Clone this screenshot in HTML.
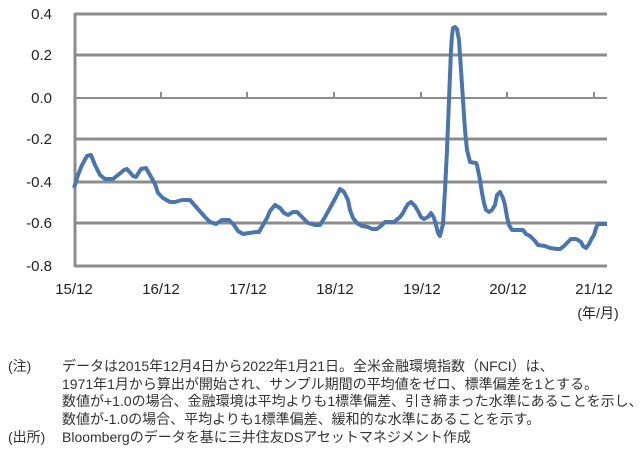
<!DOCTYPE html>
<html><head><meta charset="utf-8"><style>
body{margin:0;background:#fff;width:640px;height:456px;overflow:hidden;font-family:"Liberation Sans","Noto Sans CJK JP",sans-serif;}
.n{position:absolute;font-size:14px;color:#333;white-space:nowrap;line-height:17.7px;}
</style></head><body>
<svg width="640" height="456" style="position:absolute;left:0;top:0" font-family="Liberation Sans, Noto Sans CJK JP, sans-serif">
<g stroke="#8c8c8c" stroke-width="3">
<line x1="75" y1="14" x2="607" y2="14"/>
<line x1="75" y1="55" x2="607" y2="55"/>
<line x1="75" y1="139" x2="607" y2="139"/>
<line x1="75" y1="182" x2="607" y2="182"/>
<line x1="75" y1="223" x2="607" y2="223"/>
<line x1="75" y1="266" x2="607" y2="266"/>
<line x1="75" y1="13" x2="75" y2="267"/>
</g>
<g stroke="#8c8c8c" stroke-width="2">
<line x1="75" y1="98" x2="607" y2="98"/>
<path d="M75 98v-6M161 98v-6M247 98v-6M334 98v-6M421 98v-6M507 98v-6M594 98v-6"/>
</g>
<g font-size="15" fill="#222" text-anchor="end">
<text x="52" y="19">0.4</text><text x="52" y="60">0.2</text><text x="52" y="103">0.0</text>
<text x="52" y="144">-0.2</text><text x="52" y="187">-0.4</text><text x="52" y="228">-0.6</text><text x="52" y="271">-0.8</text>
</g>
<g font-size="15" fill="#222" text-anchor="middle">
<text x="74" y="294">15/12</text><text x="161" y="294">16/12</text><text x="248" y="294">17/12</text>
<text x="335" y="294">18/12</text><text x="422" y="294">19/12</text><text x="508" y="294">20/12</text><text x="594" y="294">21/12</text>
<text x="598" y="318" font-size="14">(年/月)</text>
</g>
<polyline fill="none" stroke="#4a76ad" stroke-width="4" stroke-linejoin="round" points="74,188 78,175 82,165 87,156 91,155 95,165 100,175 105,179 113,179 118,175 124,170 127,169 133,176 136,177 141,169 146,168 150,175 155,184 158,193 163,198 170,202 175,202 182,200 190,200 197,208 205,217 210,222 216,224 222,220 229,220 234,225 238,231 243,234 249,233 256,232 259,232 263,225 267,218 270,211 275,205 280,208 284,213 288,215 293,212 297,212 303,218 308,223 315,225 320,225 325,217 330,208 336,197 340,189 344,192 348,200 350,210 353,218 357,223 362,226 368,227 372,229 377,229 382,225 385,222 390,222 394,222 400,217 403,213 405,209 408,204 411,202 415,206 418,211 421,217 424,219 428,217 431,213 434,218 436,225 438,233 440,236 443,224 445,190 447,150 449,100 451,50 452,36 453,28 455,27 457,29 459,40 461,70 463,100 465,130 467,150 470,162 476,163 477,165 480,180 482,193 484,203 486,210 489,212 492,210 495,205 497,195 500,192 503,198 505,205 507,217 509,225 512,230 515,230 519,230 523,230 526,234 530,236 535,241 538,245 545,246 550,248 557,249 560,249 564,246 567,243 571,239 576,239 578,240 581,242 583,246 586,248 589,244 592,238 594,235 596,228 598,224 607,224"/>
</svg>
<div class="n" style="left:8px;top:358px">(注)</div>
<div class="n" style="left:62px;top:358px">データは2015年12月4日から2022年1月21日。全米金融環境指数（NFCI）は、<br>1971年1月から算出が開始され、サンプル期間の平均値をゼロ、標準偏差を1とする。<br>数値が+1.0の場合、金融環境は平均よりも1標準偏差、引き締まった水準にあることを示し、<br>数値が-1.0の場合、平均よりも1標準偏差、緩和的な水準にあることを示す。</div>
<div class="n" style="left:8px;top:429px">(出所)</div>
<div class="n" style="left:62px;top:429px">Bloombergのデータを基に三井住友DSアセットマネジメント作成</div>
</body></html>
